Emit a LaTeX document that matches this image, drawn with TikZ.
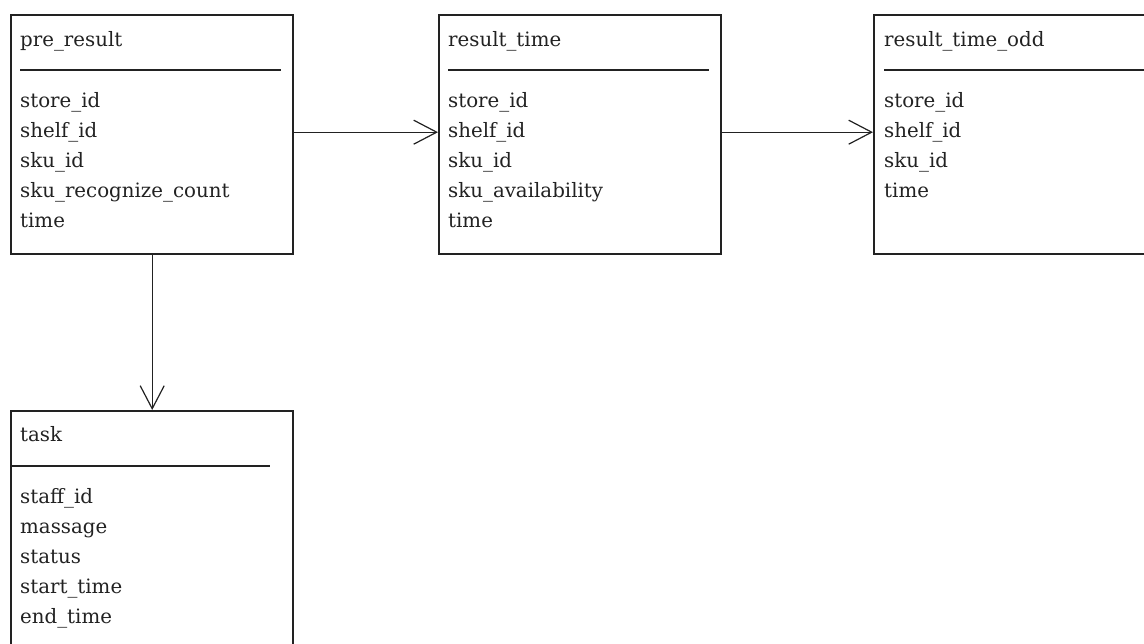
\documentclass[tikz,border=0pt]{standalone}
\usepackage{fontspec}
\setmainfont{DejaVu Serif}
\usetikzlibrary{arrows.meta}
\definecolor{ink}{HTML}{222222}
\tikzset{
  tbl/.style={draw=ink, line width=2.4pt, rectangle, minimum width=282pt, minimum height=239pt, anchor=north west, inner sep=0pt},
  fld/.style={anchor=base west, inner sep=0pt, text=ink, font=\fontsize{19.8pt}{22pt}\selectfont},
  sep/.style={draw=ink, line width=1.2pt},
  conn/.style={draw=ink, line width=1.2pt, -{Straight Barb[length=23pt,width=24pt,line width=1.2pt]}}
}
\begin{document}
\begin{tikzpicture}[x=1pt,y=1pt]
\useasboundingbox (0,0) rectangle (1144,-644);
% pre_result
\node[tbl] (pre) at (10,-14) {};
\node[fld] (pre-t) at (20,-47) {pre\_result};
\draw[sep] (20,-70) -- (281,-70);
\node[fld] (pre-1) at (20,-108) {store\_id};
\node[fld] (pre-2) at (20,-138) {shelf\_id};
\node[fld] (pre-3) at (20,-168) {sku\_id};
\node[fld] (pre-4) at (20,-198) {sku\_recognize\_count};
\node[fld] (pre-5) at (20,-228) {time};
% result_time
\node[tbl] (rt) at (438,-14) {};
\node[fld] (rt-t) at (448,-47) {result\_time};
\draw[sep] (448,-70) -- (709,-70);
\node[fld] (rt-1) at (448,-108) {store\_id};
\node[fld] (rt-2) at (448,-138) {shelf\_id};
\node[fld] (rt-3) at (448,-168) {sku\_id};
\node[fld] (rt-4) at (448,-198) {sku\_availability};
\node[fld] (rt-5) at (448,-228) {time};
% result_time_odd
\node[tbl] (rto) at (873,-14) {};
\node[fld] (rto-t) at (884,-47) {result\_time\_odd};
\draw[sep] (884,-70) -- (1144,-70);
\node[fld] (rto-1) at (884,-108) {store\_id};
\node[fld] (rto-2) at (884,-138) {shelf\_id};
\node[fld] (rto-3) at (884,-168) {sku\_id};
\node[fld] (rto-4) at (884,-198) {time};
% task
\node[tbl] (task) at (10,-410) {};
\node[fld] (task-t) at (20,-442) {task};
\draw[sep] (11,-466) -- (270,-466);
\node[fld] (task-1) at (20,-503) {staff\_id};
\node[fld] (task-2) at (20,-533) {massage};
\node[fld] (task-3) at (20,-563) {status};
\node[fld] (task-4) at (20,-593) {start\_time};
\node[fld] (task-5) at (20,-623) {end\_time};
% connectors
\draw[conn] ([yshift=2.5pt]pre.east) -- ([yshift=2.5pt]rt.west);
\draw[conn] ([yshift=2.5pt]rt.east) -- ([yshift=2.5pt]rto.west);
\draw[conn] (pre.south) -- (task.north);
\end{tikzpicture}
\end{document}
